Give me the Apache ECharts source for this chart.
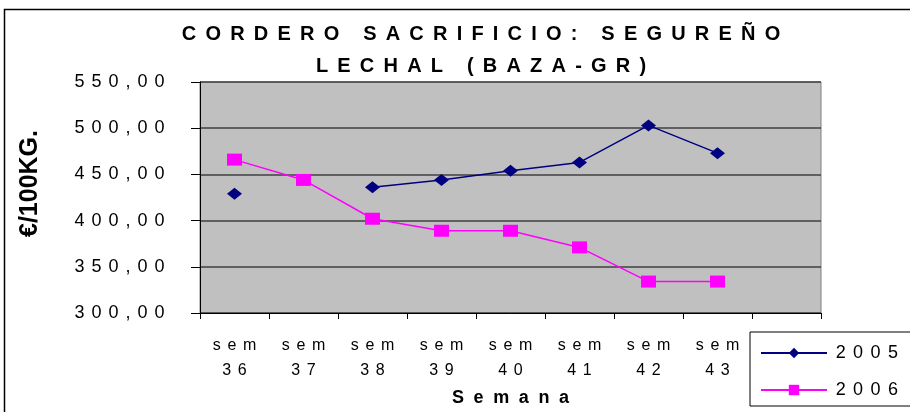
<!DOCTYPE html>
<html>
<head>
<meta charset="utf-8">
<script src="https://cdn.jsdelivr.net/npm/echarts@6/dist/echarts.min.js"></script>
<style>
  html, body { margin: 0; padding: 0; background: #fff; }
  #chart { width: 910px; height: 412px; }
</style>
</head>
<body>
<div id="chart"></div>
<script>
// semanas (la ultima columna queda vacia, como en el original)
var semanas = ['sem 36', 'sem 37', 'sem 38', 'sem 39', 'sem 40', 'sem 41', 'sem 42', 'sem 43', ''];
// precios €/100kg
var serie2005 = [429, null, 436, 444, 454, 463, 503, 473, null];
var serie2006 = [466, 444, 402, 389, 389, 371, 334, 334, null];
var yMin = 300, yMax = 550, yStep = 50;

// espaciado de caracteres: cada letra como fragmento rich con padding
var esp = function(txt) {
  return txt.split('\n').map(function(linea) {
    return linea.split('').map(function(ch) { return '{c|' + ch + '}'; }).join('');
  }).join('\n');
};

var fuente = '"Liberation Sans", Arial, sans-serif';
var chart = echarts.init(document.getElementById('chart'));

var option = {
  animation: false,
  backgroundColor: '#fff',
  textStyle: { fontFamily: fuente },
  title: {
    text: esp('CORDERO SACRIFICIO: SEGUREÑO\nLECHAL (BAZA-GR)'),
    left: 476,
    top: 13,
    textAlign: 'center',
    textStyle: {
      fontSize: 20, fontWeight: 'bold', color: '#000', lineHeight: 32, fontFamily: fuente,
      rich: { c: { fontSize: 20, fontWeight: 'bold', color: '#000', lineHeight: 32, padding: [0, 4.6], fontFamily: fuente } }
    }
  },
  grid: {
    left: 200, right: 89, top: 82, bottom: 99,
    show: true,
    backgroundColor: '#c0c0c0',
    borderColor: '#808080',
    borderWidth: 1
  },
  legend: {
    orient: 'vertical',
    left: 750, top: 332,
    itemWidth: 66, itemHeight: 13, itemGap: 19,
    padding: [12, 16, 7, 10],
    backgroundColor: '#fff',
    borderColor: '#000', borderWidth: 1, borderRadius: 0,
    textStyle: {
      fontSize: 18, color: '#000', fontFamily: fuente,
      rich: { c: { fontSize: 18, color: '#000', padding: [0, 3.7], fontFamily: fuente } }
    },
    formatter: function(n) { return esp(n); },
    data: ['2005', '2006']
  },
  xAxis: {
    type: 'category',
    data: semanas,
    boundaryGap: true,
    name: esp('Semana'),
    nameLocation: 'middle',
    nameGap: 76,
    nameTextStyle: {
      fontSize: 18, fontWeight: 'bold', color: '#000', fontFamily: fuente,
      rich: { c: { fontSize: 18, fontWeight: 'bold', color: '#000', padding: [0, 4.8], fontFamily: fuente } }
    },
    axisLine: { lineStyle: { color: '#000', width: 1 } },
    axisTick: { show: true, length: 6, lineStyle: { color: '#000' } },
    axisLabel: {
      interval: 0, margin: 20, fontSize: 16, color: '#000', lineHeight: 25,
      rich: { c: { fontSize: 16, color: '#000', lineHeight: 25, padding: [0, 3.3], fontFamily: fuente } },
      formatter: function(v) {
        if (!v) return '';
        return esp(v.replace(' ', '\n'));
      }
    },
    splitLine: { show: false }
  },
  yAxis: {
    type: 'value',
    min: yMin, max: yMax, interval: yStep,
    name: '€/100KG.',
    nameLocation: 'middle',
    nameRotate: 90,
    nameGap: 157,
    nameTextStyle: { fontSize: 25, fontWeight: 'bold', color: '#000', fontFamily: fuente, padding: [0, 0, 0, 28] },
    axisLine: { show: true, lineStyle: { color: '#000', width: 1 } },
    axisTick: { show: true, length: 9, lineStyle: { color: '#000' } },
    axisLabel: {
      margin: 32, fontSize: 18, color: '#000',
      rich: { c: { fontSize: 18, color: '#000', padding: [0, 3.5], fontFamily: fuente } },
      formatter: function(v) { return esp(v.toFixed(2).replace('.', ',')); }
    },
    splitLine: { show: true, lineStyle: { color: '#404040', width: 1.5 } }
  },
  series: [
    {
      name: '2005', type: 'line', data: serie2005,
      connectNulls: false,
      symbol: 'diamond', symbolSize: [15, 12],
      showAllSymbol: true,
      lineStyle: { color: '#000080', width: 1.5 },
      itemStyle: { color: '#000080' }
    },
    {
      name: '2006', type: 'line', data: serie2006,
      connectNulls: false,
      symbol: 'rect', symbolSize: [15, 12],
      showAllSymbol: true,
      lineStyle: { color: '#ff00ff', width: 1.5 },
      itemStyle: { color: '#ff00ff' }
    }
  ],
  graphic: [
    {
      type: 'rect', silent: true, z: 100,
      shape: { x: 4.5, y: 9.5, width: 930, height: 420 },
      style: { fill: null, stroke: '#000', lineWidth: 1.5 }
    }
  ]
};

chart.setOption(option);
</script>
</body>
</html>
